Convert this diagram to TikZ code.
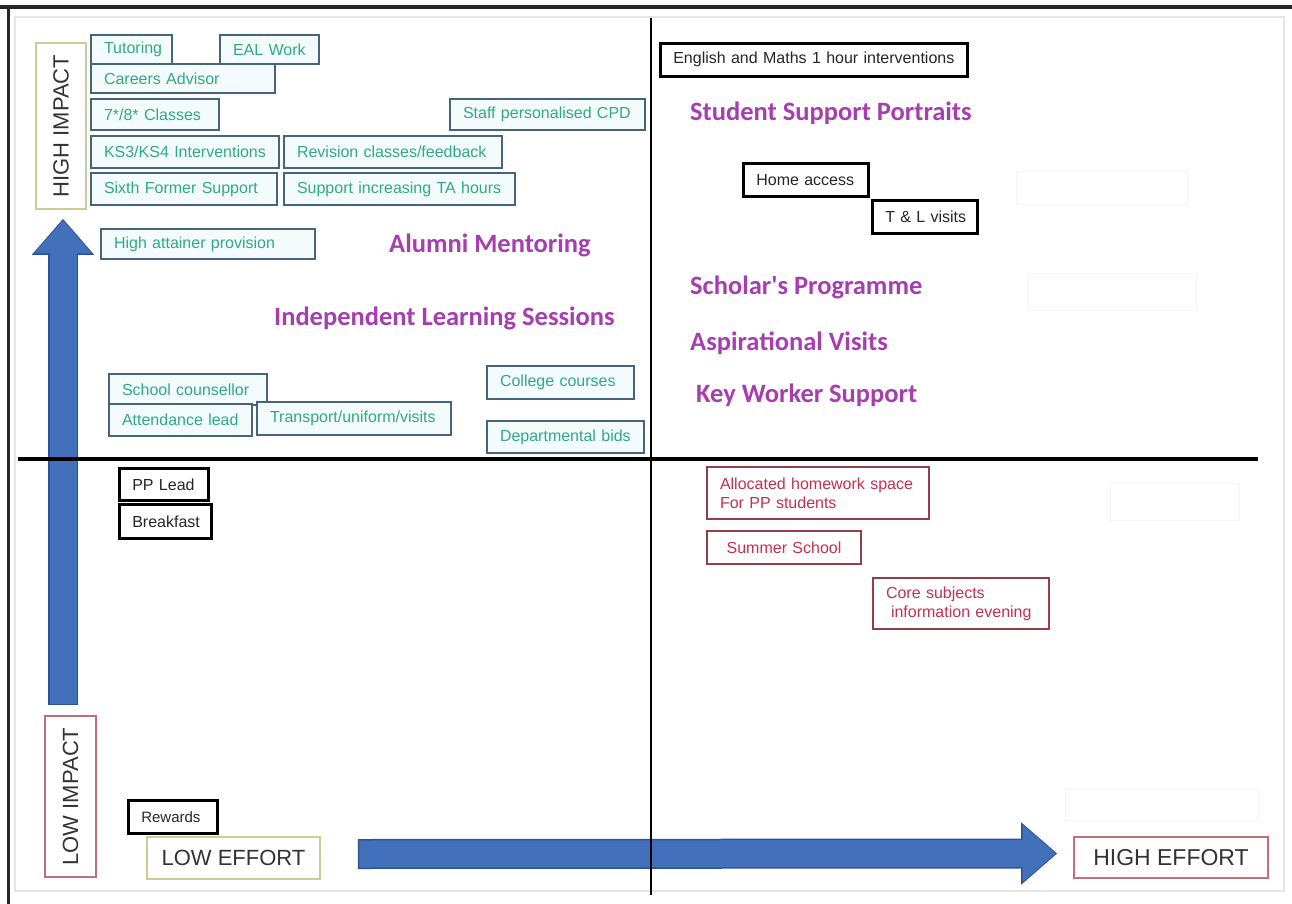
\documentclass[tikz,border=0pt]{standalone}
\usepackage{fontspec}
\setmainfont{Liberation Sans}
\newfontfamily\calfont{Carlito}
\usetikzlibrary{arrows.meta,calc}
\hyphenpenalty=10000
\exhyphenpenalty=10000

\definecolor{tealline}{RGB}{70,100,125}
\definecolor{tealtext}{RGB}{48,170,130}
\definecolor{tealfill}{RGB}{244,251,252}
\definecolor{redline}{RGB}{150,62,72}
\definecolor{redtext}{RGB}{196,48,82}
\definecolor{plum}{RGB}{166,62,176}
\definecolor{arrowblue}{RGB}{66,112,186}
\definecolor{arrowedge}{RGB}{46,82,148}
\definecolor{oliveline}{RGB}{200,206,150}
\definecolor{pinkline}{RGB}{196,110,120}

\tikzset{
	card/.style={draw, rectangle, anchor=north west, inner xsep=13pt, inner ysep=0pt, align=left, font=\fontsize{16}{19}\selectfont},
	tealcard/.style={card, draw=tealline, fill=tealfill, text=tealtext, line width=2pt},
	redcard/.style={card, draw=redline, fill=white, text=redtext, line width=2pt},
	blackcard/.style={card, draw=black, fill=white, text=black!85, line width=2.6pt},
	axisbox/.style={draw, rectangle, fill=white, line width=1.6pt, inner sep=0pt, text=black!80, font=\fontsize{22}{24}\selectfont},
	plumtext/.style={anchor=base west, inner sep=0pt, text=plum, font=\calfont\bfseries\fontsize{26.5}{30}\selectfont},
}

\begin{document}
\begin{tikzpicture}[x=1pt,y=-1pt,>=latex]
	\useasboundingbox (0,0) rectangle (1292,904);
	\fill[white] (0,0) rectangle (1292,904);
	% Draw the frame
	\draw[black!10, line width=1.5pt] (15,17) rectangle (1284,891);
	\draw[black!85, line width=4pt] (0,7) -- (1292,7);
	\draw[black!85, line width=3pt] (8,7) -- (8,904);
	% faint leftover boxes
	\draw[black!4, line width=1pt] (1016,172) rectangle (1188,204);
	\draw[black!4, line width=1pt] (1028,273) rectangle (1196,310);
	\draw[black!4, line width=1pt] (1110,483) rectangle (1239,520);
	\draw[black!4, line width=1pt] (1065,788) rectangle (1258,820);

	% Draw the axis labels
	\node[axisbox, draw=oliveline, rotate=90, minimum width=166pt, minimum height=50pt] (highimpact) at (61,126) {HIGH IMPACT};
	\node[axisbox, draw=pinkline, rotate=90, minimum width=161pt, minimum height=51pt] (lowimpact) at (70.5,796.5) {LOW IMPACT};
	\node[axisbox, draw=oliveline, minimum width=173pt, minimum height=42pt] (loweffort) at (233.5,858) {LOW EFFORT};
	\node[axisbox, draw=pinkline, minimum width=194pt, minimum height=41pt, font=\fontsize{23}{25}\selectfont] (higheffort) at (1171,857.5) {HIGH EFFORT};

	% Draw the block arrows
	\draw[arrowedge, line width=30pt, -{Triangle[width=60pt,length=36pt]}] ($(highimpact.west |- lowimpact.east)+(2,-10)$) -- ($(highimpact.west)+(2,9)$);
	\draw[arrowblue, line width=27pt, -{Triangle[width=55pt,length=33pt]}] ($(highimpact.west |- lowimpact.east)+(2,-11.5)$) -- ($(highimpact.west)+(2,10.5)$);
	\draw[arrowedge, line width=30pt, -{Triangle[width=60pt,length=36pt]}] ($(loweffort.east)+(37,-4)$) -- ($(higheffort.west)+(-16,-4)$);
	\draw[arrowblue, line width=27pt, -{Triangle[width=55pt,length=33pt]}] ($(loweffort.east)+(38.5,-4)$) -- ($(higheffort.west)+(-17.5,-4)$);

	% Draw the quadrant lines
	\draw[black, line width=2.2pt] (651,18) -- (651,895);
	\draw[black, line width=4pt] (18,459) -- (1258,459);

	% high impact, low effort
	\node[tealcard, text width=55pt, minimum height=29pt] (tutoring) at (90,34) {\mbox{Tutoring}};
	\node[tealcard, text width=73pt, minimum height=29pt] (ealwork) at (219,34) {\mbox{EAL Work}};
	\node[tealcard, text width=158pt, minimum height=29pt] (careers) at (90,63) {\mbox{Careers Advisor}};
	\node[tealcard, text width=102pt, minimum height=31pt] (classes) at (90,98) {\mbox{7*/8* Classes}};
	\node[tealcard, text width=169pt, minimum height=31pt] (cpd) at (449,98) {\mbox{Staff personalised CPD}};
	\node[tealcard, text width=162pt, minimum height=32pt] (ksint) at (90,135) {\mbox{KS3/KS4 Interventions}};
	\node[tealcard, text width=192pt, minimum height=32pt] (revision) at (283,135) {\mbox{Revision classes/feedback}};
	\node[tealcard, text width=160pt, minimum height=32pt] (sixthform) at (90,172) {\mbox{Sixth Former Support}};
	\node[tealcard, text width=205pt, minimum height=32pt] (tahours) at (283,172) {\mbox{Support increasing TA hours}};
	\node[tealcard, text width=188pt, minimum height=30pt] (attainer) at (100,228) {\mbox{High attainer provision}};
	\node[tealcard, text width=132pt, minimum height=31pt] (counsellor) at (108,373) {\mbox{School counsellor}};
	\node[tealcard, text width=117pt, minimum height=32pt] (attendance) at (108,403) {\mbox{Attendance lead}};
	\node[tealcard, text width=168pt, minimum height=33pt] (transport) at (256,401) {\mbox{Transport/uniform/visits}};
	\node[tealcard, text width=121pt, minimum height=33pt] (college) at (486,365) {\mbox{College courses}};
	\node[tealcard, text width=131pt, minimum height=32pt] (bids) at (486,420) {\mbox{Departmental bids}};
	\node[plumtext] (alumni) at (389,252) {Alumni Mentoring};
	\node[plumtext] (independent) at (274,325) {Independent Learning Sessions};

	% high impact, high effort
	\node[blackcard, text width=281pt, minimum height=33pt] (english) at (659,42) {\mbox{English and Maths 1 hour interventions}};
	\node[blackcard, text width=99pt, minimum height=33pt] (homeaccess) at (742,162) {\mbox{Home access}};
	\node[blackcard, text width=79pt, minimum height=33pt] (tlvisits) at (871,199) {\mbox{T \& L visits}};
	\node[plumtext] (portraits) at (690,121) {Student Support Portraits};
	\node[plumtext] (scholars) at (690,294) {Scholar's Programme};
	\node[plumtext] (aspiration) at (690,350) {Aspirational Visits};
	\node[plumtext] (keyworker) at (696,402) {Key Worker Support};

	% low impact, low effort
	\node[blackcard, text width=63pt, minimum height=32pt] (pplead) at (118,467) {\mbox{PP Lead}};
	\node[blackcard, text width=66pt, minimum height=34pt] (breakfast) at (118,503) {\mbox{Breakfast}};
	\node[blackcard, text width=63pt, minimum height=33pt, font=\fontsize{15}{18}\selectfont] (rewards) at (127,799) {\mbox{Rewards}};

	% low impact, high effort
	\node[redcard, text width=196pt, minimum height=52pt] (homework) at (706,466) {\mbox{Allocated homework space}\\\mbox{For PP students}};
	\node[redcard, text width=128pt, minimum height=33pt, align=center] (summer) at (706,530) {\mbox{Summer School}};
	\node[redcard, text width=150pt, minimum height=51pt] (coresubj) at (872,577) {\mbox{Core subjects}\\\mbox{\hspace{5pt}information evening}};
\end{tikzpicture}
\end{document}
